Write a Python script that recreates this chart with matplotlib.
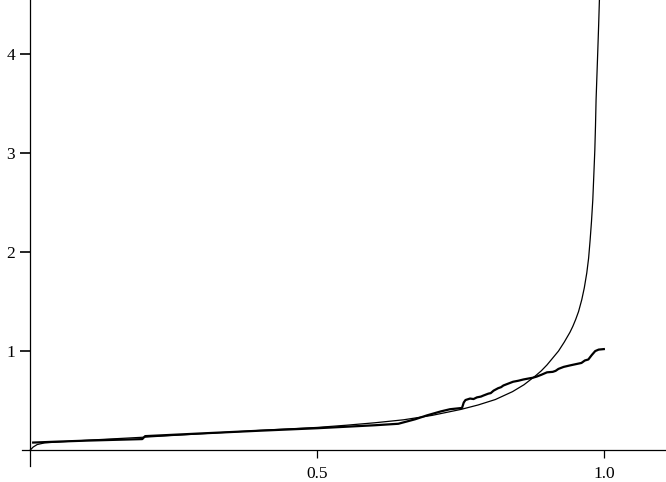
import matplotlib
matplotlib.use("Agg")
import matplotlib.pyplot as plt

# Smooth (theoretical) curve
smooth_x = [0.0, 0.005, 0.012, 0.025, 0.06, 0.12, 0.2, 0.3, 0.4, 0.5, 0.55, 0.6,
            0.65, 0.7, 0.75, 0.78, 0.81, 0.84, 0.86, 0.88, 0.89, 0.9, 0.91, 0.92,
            0.93, 0.94, 0.945, 0.95, 0.955, 0.9606, 0.965, 0.9693, 0.9725, 0.9751,
            0.9775, 0.9798, 0.9815, 0.9833, 0.9845, 0.9855, 0.987, 0.9885, 0.99,
            0.9913, 0.9925]
smooth_y = [0.0, 0.03, 0.055, 0.072, 0.085, 0.105, 0.13, 0.165, 0.198, 0.228, 0.25, 0.275,
            0.305, 0.35, 0.41, 0.455, 0.51, 0.59, 0.66, 0.75, 0.80, 0.86, 0.93, 1.00,
            1.09, 1.19, 1.25, 1.32, 1.40, 1.52, 1.64, 1.79, 1.94, 2.12,
            2.31, 2.53, 2.77, 3.03, 3.28, 3.54, 3.79, 4.04, 4.30,
            4.55, 4.80]

emp_x = [0.005, 0.05, 0.1, 0.15, 0.195, 0.2, 0.3, 0.4, 0.5, 0.6, 0.641, 0.67, 0.691,
         0.715, 0.731, 0.752, 0.755, 0.758, 0.766, 0.772, 0.778, 0.785, 0.789, 0.798,
         0.802, 0.807, 0.815, 0.82, 0.824, 0.832, 0.841, 0.85, 0.859, 0.87, 0.875,
         0.882, 0.89, 0.9, 0.91, 0.915, 0.92, 0.929, 0.94, 0.952, 0.96, 0.966, 0.972,
         0.978, 0.984, 0.99, 0.999]
emp_y = [0.075, 0.085, 0.095, 0.103, 0.11, 0.14, 0.168, 0.195, 0.22, 0.25, 0.265, 0.31, 0.35,
         0.39, 0.412, 0.425, 0.48, 0.505, 0.52, 0.515, 0.532, 0.54, 0.55, 0.57,
         0.575, 0.60, 0.625, 0.635, 0.652, 0.67, 0.69, 0.70, 0.713, 0.725, 0.73,
         0.742, 0.76, 0.785, 0.79, 0.80, 0.82, 0.84, 0.855, 0.87, 0.88, 0.905, 0.915,
         0.96, 1.0, 1.015, 1.02]

x_ticks = [0.5, 1.0]
x_tick_labels = ["0.5", "1.0"]
y_ticks = [1, 2, 3, 4]
y_tick_labels = ["1", "2", "3", "4"]

fig = plt.figure(figsize=(6.66, 4.82), dpi=100)
ax = fig.add_axes([0.0326, 0.0332, 0.968, 0.9668])

ax.plot(smooth_x, smooth_y, color="black", lw=0.9, solid_joinstyle="round")
ax.plot(emp_x, emp_y, color="black", lw=1.6, solid_joinstyle="round")

ax.set_xlim(-0.015, 1.108)
ax.set_ylim(-0.162, 4.55)

for s in ["top", "right"]:
    ax.spines[s].set_visible(False)
ax.spines["left"].set_position(("data", 0))
ax.spines["bottom"].set_position(("data", 0))
for s in ["left", "bottom"]:
    ax.spines[s].set_linewidth(0.9)

ax.set_xticks(x_ticks)
ax.set_xticklabels(x_tick_labels)
ax.set_yticks(y_ticks)
ax.set_yticklabels(y_tick_labels)
ax.tick_params(axis="x", direction="out", length=5.5, width=0.9, pad=6,
               labelsize=12.5)
ax.tick_params(axis="y", direction="out", length=7, width=1.2, pad=4,
               labelsize=12.5)
for lab in ax.get_xticklabels() + ax.get_yticklabels():
    lab.set_family("Liberation Serif")

fig.savefig("out.png", dpi=100)
